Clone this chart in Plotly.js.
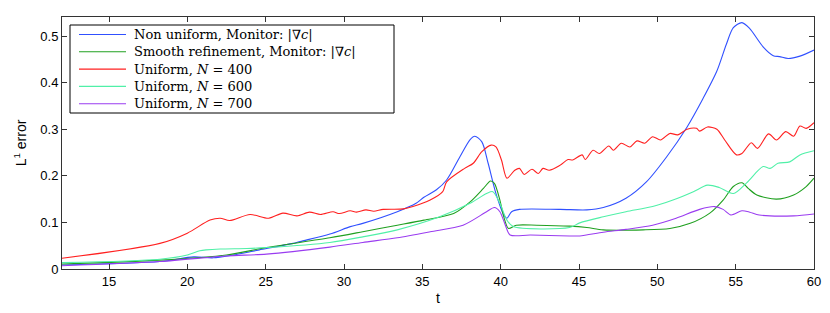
<!DOCTYPE html>
<html>
<head>
<meta charset="utf-8">
<script src="https://cdn.plot.ly/plotly-3.0.1.min.js"></script>
<style>html,body{margin:0;padding:0;background:#fff;}#chart{width:830px;height:313px;}</style>
</head>
<body>
<div id="chart"></div>
<script>
// Non uniform, Monitor |grad c|
const tBlue = [12, 18.25, 20.4, 21.65, 22.9, 24.0, 24.6, 26.75, 27.2, 29.1, 30.4, 31.2, 33.4, 34.6, 35.1, 35.9, 36.55, 37.4, 38.05, 38.35, 38.8, 39.2, 39.7, 40.2, 40.4, 40.7, 41.2, 43.8, 45.5, 46.55, 48.0, 49.3, 50.6, 51.9, 52.9, 53.8, 54.4, 54.85, 55.4, 55.9, 56.75, 57.4, 57.8, 58.35, 59.1, 60];
const yBlue = [0.0086, 0.016, 0.026, 0.024, 0.030, 0.037, 0.041, 0.055, 0.059, 0.075, 0.091, 0.098, 0.123, 0.141, 0.154, 0.170, 0.191, 0.241, 0.278, 0.285, 0.273, 0.227, 0.162, 0.116, 0.109, 0.123, 0.128, 0.128, 0.127, 0.132, 0.152, 0.187, 0.241, 0.305, 0.365, 0.425, 0.482, 0.518, 0.529, 0.516, 0.477, 0.458, 0.456, 0.452, 0.457, 0.470];

// Smooth refinement, Monitor |grad c|
const tGreen = [12, 18.25, 22.5, 25.05, 29.1, 31.2, 33.4, 35.1, 37.0, 38.05, 38.9, 39.35, 39.6, 39.95, 40.2, 40.5, 41.0, 42.3, 44.4, 45.5, 46.55, 49.1, 50.8, 52.1, 53.35, 54.2, 54.85, 55.4, 55.8, 56.35, 57.6, 58.7, 59.5, 60];
const yGreen = [0.0107, 0.019, 0.030, 0.046, 0.067, 0.080, 0.094, 0.105, 0.119, 0.144, 0.173, 0.189, 0.184, 0.148, 0.112, 0.087, 0.094, 0.094, 0.092, 0.089, 0.084, 0.084, 0.087, 0.098, 0.120, 0.148, 0.177, 0.185, 0.173, 0.159, 0.150, 0.159, 0.177, 0.195];

// Uniform, N = 400
const tRed = [12, 18.25, 20.0, 21.45, 22.1, 22.7, 24.0, 25.2, 26.1, 27.0, 27.8, 28.5, 29.3, 29.7, 30.4, 30.8, 31.4, 31.9, 32.5, 33.8, 34.4, 35.5, 36.3, 36.55, 37.7, 38.25, 38.8, 39.4, 39.7, 40.05, 40.4, 40.9, 41.2, 41.5, 42.0, 42.4, 42.7, 43.1, 43.8, 44.3, 44.6, 45.2, 45.4, 45.9, 46.3, 46.9, 47.2, 47.7, 48.25, 48.7, 49.2, 49.7, 50.2, 50.8, 51.3, 51.9, 52.5, 52.7, 53.2, 53.8, 54.3, 55.05, 55.4, 56.0, 56.4, 57.1, 57.6, 58.2, 58.7, 59.1, 59.5, 60];
const yRed = [0.023, 0.055, 0.077, 0.105, 0.109, 0.104, 0.117, 0.109, 0.120, 0.114, 0.122, 0.117, 0.123, 0.119, 0.125, 0.122, 0.127, 0.124, 0.128, 0.129, 0.134, 0.148, 0.166, 0.187, 0.216, 0.227, 0.252, 0.266, 0.262, 0.234, 0.195, 0.212, 0.216, 0.203, 0.214, 0.205, 0.216, 0.212, 0.223, 0.235, 0.234, 0.245, 0.235, 0.255, 0.248, 0.264, 0.255, 0.270, 0.262, 0.275, 0.270, 0.284, 0.277, 0.291, 0.288, 0.300, 0.302, 0.296, 0.305, 0.300, 0.277, 0.245, 0.248, 0.271, 0.259, 0.290, 0.277, 0.295, 0.285, 0.307, 0.302, 0.314];

// Uniform, N = 600
const tCyan = [12, 18.25, 20.0, 20.8, 21.2, 22.1, 23.8, 25.05, 29.1, 31.2, 33.4, 36.1, 38.05, 39.1, 39.5, 39.95, 40.4, 40.8, 44.4, 45.05, 46.55, 48.0, 49.7, 51.0, 52.3, 53.2, 53.95, 54.85, 55.7, 56.75, 57.2, 57.7, 58.45, 59.1, 60];
const yCyan = [0.0136, 0.021, 0.030, 0.039, 0.041, 0.043, 0.044, 0.046, 0.057, 0.069, 0.084, 0.112, 0.141, 0.162, 0.166, 0.141, 0.105, 0.091, 0.089, 0.099, 0.112, 0.123, 0.134, 0.148, 0.166, 0.180, 0.175, 0.162, 0.185, 0.220, 0.216, 0.227, 0.230, 0.245, 0.254];

// Uniform, N = 700
const tPurple = [12, 18.25, 22.5, 25.05, 29.1, 31.2, 33.4, 35.5, 37.6, 39.1, 39.6, 39.95, 40.3, 40.6, 41.9, 44.4, 45.05, 46.55, 48.0, 49.7, 51.2, 52.7, 53.65, 54.2, 54.7, 55.4, 55.9, 56.5, 58.7, 60];
const yPurple = [0.007, 0.016, 0.028, 0.032, 0.047, 0.057, 0.067, 0.080, 0.094, 0.123, 0.132, 0.123, 0.094, 0.073, 0.073, 0.071, 0.071, 0.079, 0.085, 0.094, 0.109, 0.128, 0.134, 0.128, 0.116, 0.125, 0.122, 0.116, 0.114, 0.118];

const names = ["Non uniform, Monitor: |∇<i>c</i>|", "Smooth refinement, Monitor: |∇<i>c</i>|", "Uniform, <i>N</i> = 400", "Uniform, <i>N</i> = 600", "Uniform, <i>N</i> = 700"];
const colors = ["#3050ff", "#20a020", "#ff2020", "#50f0a8", "#9a3cf0"];
const xTicks = [15, 20, 25, 30, 35, 40, 45, 50, 55, 60];
const yTicks = [0, 0.1, 0.2, 0.3, 0.4, 0.5];

const series = [[tBlue, yBlue], [tGreen, yGreen], [tRed, yRed], [tCyan, yCyan], [tPurple, yPurple]];
const data = series.map((s, i) => ({
  x: s[0], y: s[1], type: 'scatter', mode: 'lines', name: names[i],
  line: {color: colors[i], width: 1.1, shape: 'spline', smoothing: 0.8}
}));

const sans = "'Liberation Sans', Arial, sans-serif";
const serif = "'DejaVu Serif', 'Liberation Serif', serif";

// --- legend box, drawn in paper coordinates (layout only) ---
const W = 830, H = 313, ML = 62, MR = 16, MT = 17, MB = 44;
const PW = W - ML - MR, PH = H - MT - MB;
const px = v => (v - ML) / PW;
const py = v => (H - MB - v) / PH;
const legBox = {x0: 70, x1: 394, y0: 25, y1: 113};
const legRow0 = 34.5, legRowStep = 17.3, legLineX0 = 79, legLineX1 = 126, legTextX = 132;

const shapes = [{
  type: 'rect', xref: 'paper', yref: 'paper', layer: 'above',
  x0: px(legBox.x0), x1: px(legBox.x1), y0: py(legBox.y1), y1: py(legBox.y0),
  fillcolor: '#fff', line: {color: '#000', width: 1}
}];
const annotations = [];
names.forEach((nm, i) => {
  const yy = py(legRow0 + i * legRowStep);
  shapes.push({type: 'line', xref: 'paper', yref: 'paper', layer: 'above',
    x0: px(legLineX0), x1: px(legLineX1), y0: yy, y1: yy,
    line: {color: colors[i], width: 1.1}});
  annotations.push({xref: 'paper', yref: 'paper', x: px(legTextX), y: yy,
    xanchor: 'left', yanchor: 'middle', showarrow: false, text: nm,
    font: {family: serif, size: 13, color: '#000'}});
});

const axisCommon = {
  showgrid: false, zeroline: false, showline: true, linecolor: '#333', linewidth: 1,
  mirror: 'ticks', ticks: 'inside', ticklen: 5, tickcolor: '#333', tickwidth: 1,
  tickfont: {family: sans, size: 13, color: '#000'}
};

const layout = {
  width: W, height: H,
  margin: {l: ML, r: MR, t: MT, b: MB},
  paper_bgcolor: '#fff', plot_bgcolor: '#fff',
  showlegend: false,
  shapes: shapes,
  annotations: annotations,
  xaxis: Object.assign({}, axisCommon, {
    range: [12, 60], tickvals: xTicks,
    title: {text: 't', font: {family: sans, size: 14, color: '#000'}, standoff: 5}
  }),
  yaxis: Object.assign({}, axisCommon, {
    range: [0, 0.541], tickvals: yTicks, ticktext: yTicks.map(v => v === 0 ? '0' : String(v)),
    title: {text: 'L<sup>1</sup> error', font: {family: sans, size: 14, color: '#000'}, standoff: 10}
  })
};

Plotly.newPlot('chart', data, layout, {displayModeBar: false, staticPlot: true});
</script>
</body>
</html>
